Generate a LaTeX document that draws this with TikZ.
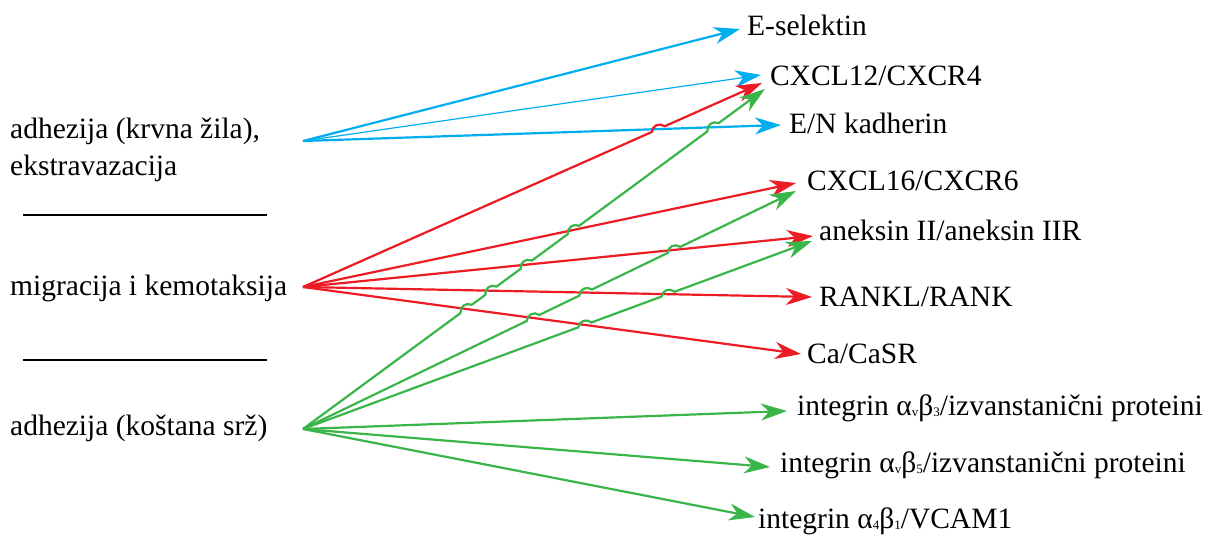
\documentclass[tikz,border=0pt]{standalone}
\usepackage{fontspec}
\setmainfont{Liberation Serif}
\usetikzlibrary{arrows.meta,calc,intersections}
\definecolor{cblue}{RGB}{0,174,239}
\definecolor{cred}{RGB}{237,28,36}
\definecolor{cgreen}{RGB}{57,181,74}
\newcommand\mysub[1]{\raisebox{-1pt}{\fontsize{13}{13}\selectfont #1}}
\begin{document}
\begin{tikzpicture}[x=1pt,y=-1pt,
  lab/.style={anchor=base west,inner sep=0pt,font=\fontsize{29.5}{28}\selectfont},
  conn/.style={line width=2.2pt,-{Stealth[length=26pt,width=17pt,inset=8pt]}},
  bl/.style={conn,cblue}, rd/.style={conn,cred}, gr/.style={conn,cgreen},
  hop/.style={bend left=60,looseness=1.2},
  sep/.style={line width=2pt,black}]
\useasboundingbox (0,0) rectangle (1223,538);
% left labels
\node[lab] (n1a) at (10,138) {adhezija (krvna žila),};
\node[lab] (n1b) at (10,175) {ekstravazacija};
\node[lab] (n2) at (10,295) {migracija i kemotaksija};
\node[lab] (n3) at (10,435) {adhezija (koštana srž)};
\draw[sep] (23,215) -- (267,215);
\draw[sep] (23,360) -- (267,360);
% right labels
\node[lab] (t1) at (747,35) {E-selektin};
\node[lab] (t2) at (770,85) {CXCL12/CXCR4};
\node[lab] (t3) at (789,133) {E/N kadherin};
\node[lab] (t4) at (807,190) {CXCL16/CXCR6};
\node[lab] (t5) at (819,240) {aneksin II/aneksin IIR};
\node[lab] (t6) at (819,306) {RANKL/RANK};
\node[lab] (t7) at (807,363) {Ca/CaSR};
\node[lab] (t8) at (797,415) {integrin α\mysub{v}β\mysub{3}/izvanstanični proteini};
\node[lab] (t9) at (780,472) {integrin α\mysub{v}β\mysub{5}/izvanstanični proteini};
\node[lab] (t10) at (758,528) {integrin α\mysub{4}β\mysub{1}/VCAM1};
% sources and tips
\coordinate (sB) at (303,141);
\coordinate (sR) at (303,287);
\coordinate (sG) at (303,429);
\coordinate (bB1) at (740,29);
\coordinate (bB2) at (761,75);
\coordinate (bB3) at (781,125);
\coordinate (rR1) at (762,83);
\coordinate (rR2) at (796,183);
\coordinate (rR3) at (813,236);
\coordinate (rR4) at (812,297);
\coordinate (rR5) at (801,354);
\coordinate (gG1) at (765,89);
\coordinate (gG2) at (796,191);
\coordinate (gG3) at (812,241);
\coordinate (gG4) at (787,411);
\coordinate (gG5) at (770,467);
\coordinate (gG6) at (755,517);
% paths for crossings
\path[name path=pb3] (sB) -- (bB3);
\path[name path=pr1] (sR) -- (rR1);
\path[name path=pr2] (sR) -- (rR2);
\path[name path=pr3] (sR) -- (rR3);
\path[name path=pr4] (sR) -- (rR4);
\path[name path=pr5] (sR) -- (rR5);
\path[name path=pg1] (sG) -- (gG1);
\path[name path=pg2] (sG) -- (gG2);
\path[name path=pg3] (sG) -- (gG3);
\path[name intersections={of=pr1 and pb3,by=xrb}];
\path[name intersections={of=pg1 and pr5,by=x15}];
\path[name intersections={of=pg1 and pr4,by=x14}];
\path[name intersections={of=pg1 and pr3,by=x13}];
\path[name intersections={of=pg1 and pr2,by=x12}];
\path[name intersections={of=pg1 and pb3,by=x1b}];
\path[name intersections={of=pg2 and pr5,by=x25}];
\path[name intersections={of=pg2 and pr4,by=x24}];
\path[name intersections={of=pg2 and pr3,by=x23}];
\path[name intersections={of=pg3 and pr5,by=x35}];
\path[name intersections={of=pg3 and pr4,by=x34}];
% blue
\draw[bl] (sB) -- (bB1);
\draw[bl,line width=1.2pt] (sB) -- (bB2);
\draw[bl] (sB) -- (bB3);
% red
\draw[rd] (sR) -- ($(xrb)!7pt!(sR)$) to[hop] ($(xrb)!-7pt!(sR)$) -- (rR1);
\draw[rd] (sR) -- (rR2);
\draw[rd] (sR) -- (rR3);
\draw[rd] (sR) -- (rR4);
\draw[rd] (sR) -- (rR5);
% green
\draw[gr] (sG) -- ($(x15)!7pt!(sG)$) to[hop] ($(x15)!-7pt!(sG)$)
  -- ($(x14)!7pt!(sG)$) to[hop] ($(x14)!-7pt!(sG)$)
  -- ($(x13)!7pt!(sG)$) to[hop] ($(x13)!-7pt!(sG)$)
  -- ($(x12)!7pt!(sG)$) to[hop] ($(x12)!-7pt!(sG)$)
  -- ($(x1b)!7pt!(sG)$) to[hop] ($(x1b)!-7pt!(sG)$) -- (gG1);
\draw[gr] (sG) -- ($(x25)!7pt!(sG)$) to[hop] ($(x25)!-7pt!(sG)$)
  -- ($(x24)!7pt!(sG)$) to[hop] ($(x24)!-7pt!(sG)$)
  -- ($(x23)!7pt!(sG)$) to[hop] ($(x23)!-7pt!(sG)$) -- (gG2);
\draw[gr] (sG) -- ($(x35)!7pt!(sG)$) to[hop] ($(x35)!-7pt!(sG)$)
  -- ($(x34)!7pt!(sG)$) to[hop] ($(x34)!-7pt!(sG)$) -- (gG3);
\draw[gr] (sG) -- (gG4);
\draw[gr] (sG) -- (gG5);
\draw[gr] (sG) -- (gG6);
\end{tikzpicture}
\end{document}
